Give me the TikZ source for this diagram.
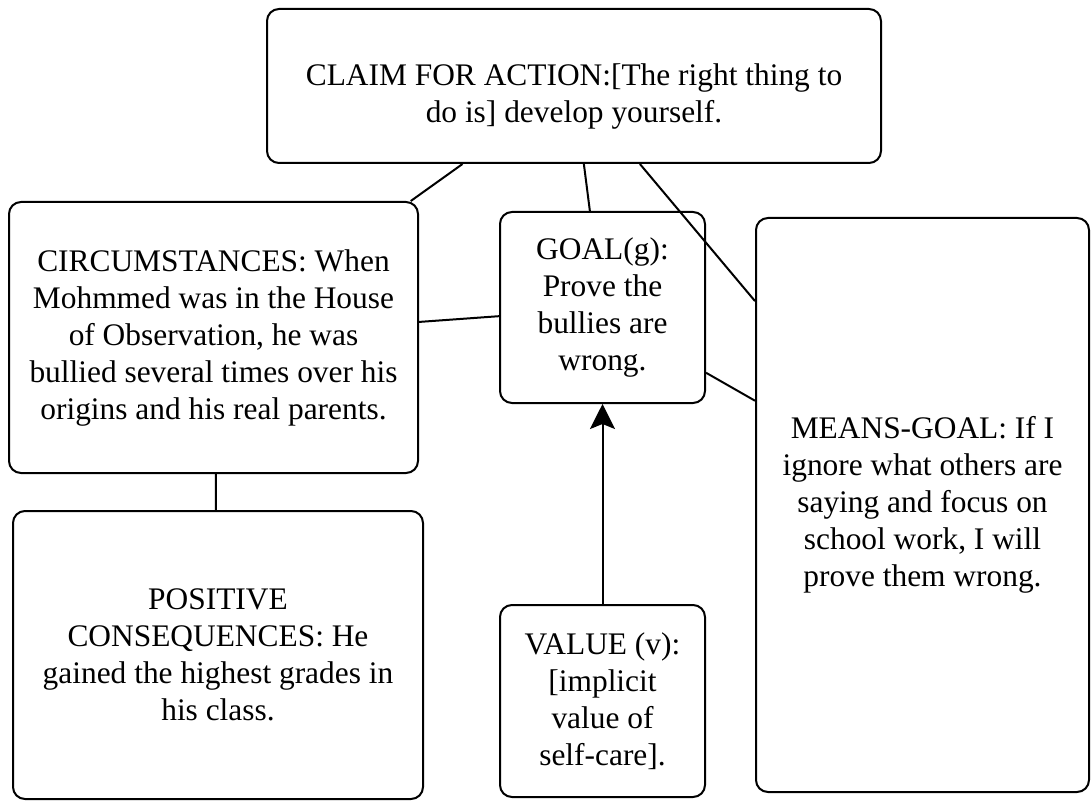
\documentclass[tikz,border=0pt]{standalone}
\usepackage{fontspec}
\setmainfont{Liberation Serif}
\usetikzlibrary{calc,arrows.meta}

\begin{document}
\begin{tikzpicture}[x=1pt,y=-1pt,
  box/.style={draw=black, line width=2pt, rounded corners=12pt, fill=white,
    align=center, inner sep=0pt, font=\fontsize{31.4}{37}\selectfont},
  link/.style={draw=black, line width=2pt},
  support/.style={link, -{Stealth[length=25pt,width=25pt,inset=5pt]}}]
  \useasboundingbox (0,0) rectangle (1091,802);

  % argument boxes
  \node[box, minimum width=614pt, minimum height=154pt] (claim) at (574,86)
    {\rule{0pt}{42pt}CLAIM FOR ACTION:[The right thing to\\do is] develop yourself.};
  \node[box, minimum width=409pt, minimum height=271pt] (circ) at (213.5,337.5)
    {CIRCUMSTANCES: When\\Mohmmed was in the House\\of Observation, he was\\bullied several times over his\\origins and his real parents.};
  \node[box, minimum width=205pt, minimum height=191pt] (goal) at (602.5,307.5)
    {GOAL(g):\\Prove the\\bullies are\\wrong.};
  \node[box, minimum width=333pt, minimum height=574pt] (means) at (922.5,505)
    {MEANS-GOAL: If I\\ignore what others are\\saying and focus on\\school work, I will\\prove them wrong.};
  \node[box, minimum width=410pt, minimum height=288pt] (pos) at (218,655)
    {POSITIVE\\CONSEQUENCES: He\\gained the highest grades in\\his class.};
  \node[box, minimum width=205pt, minimum height=192pt] (value) at (602.5,701)
    {VALUE (v):\\{[implicit}\\value of\\self-care].};

  % connectors
  \draw[link] ($(claim.south west)!0.319!(claim.south east)$) -- ($(circ.north west)!0.98!(circ.north east)$);
  \draw[link] ($(claim.south west)!0.516!(claim.south east)$) -- ($(goal.north west)!0.439!(goal.north east)$);
  \draw[link] ($(claim.south west)!0.607!(claim.south east)$) -- ($(means.north west)!0.146!(means.south west)$);
  \draw[link] ($(circ.north east)!0.443!(circ.south east)$) -- ($(goal.north west)!0.545!(goal.south west)$);
  \draw[link] ($(goal.north east)!0.838!(goal.south east)$) -- ($(means.north west)!0.319!(means.south west)$);
  \draw[link] ($(circ.south west)!0.506!(circ.south east)$) -- ($(pos.north west)!0.495!(pos.north east)$);
  \draw[support] (value.north) -- (goal.south);
\end{tikzpicture}
\end{document}
